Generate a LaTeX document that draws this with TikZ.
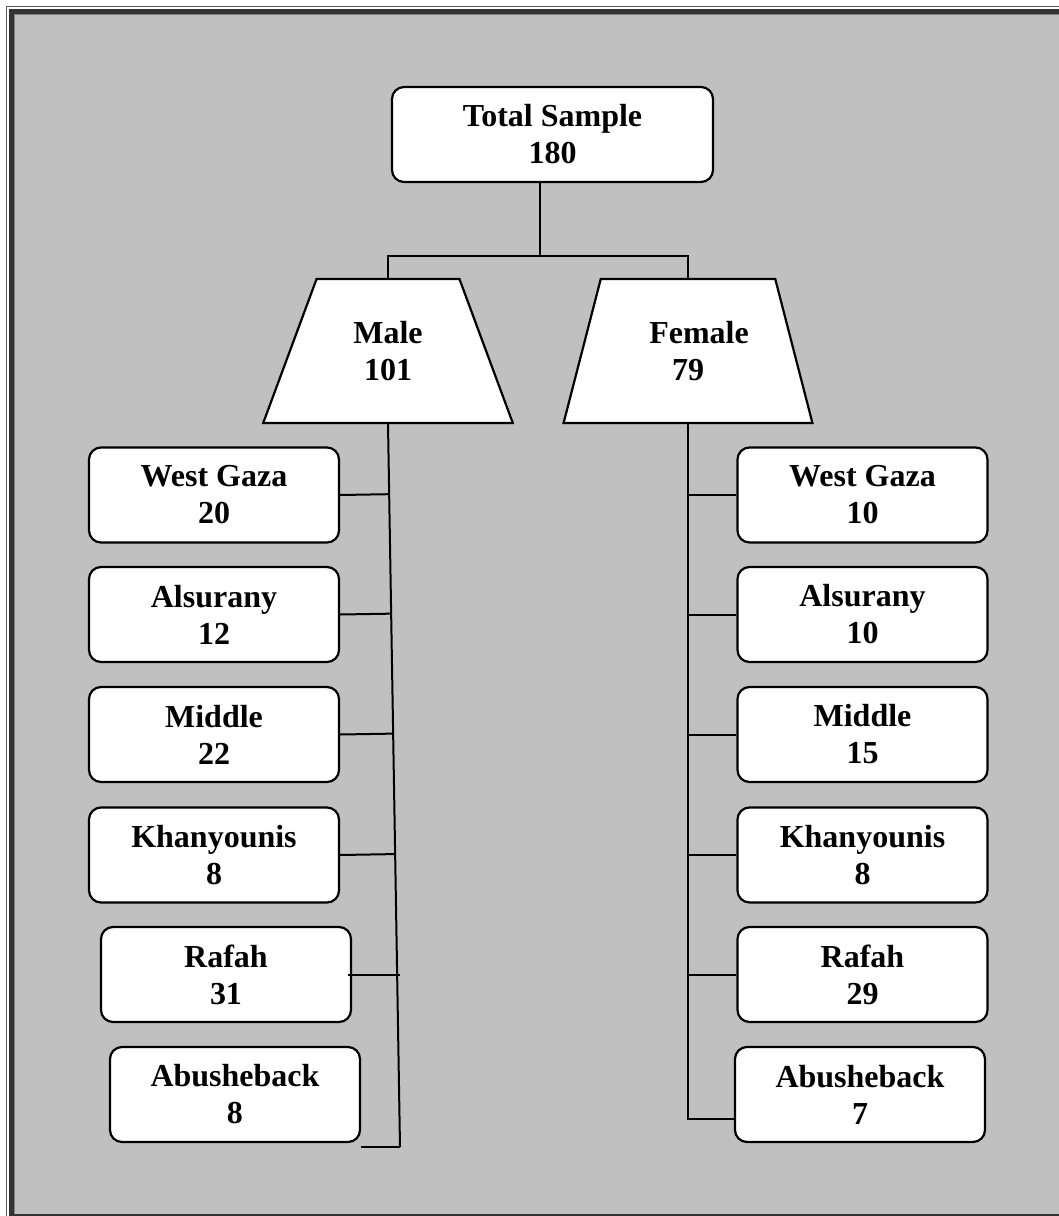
\documentclass[tikz,border=0pt]{standalone}
\usepackage{fontspec}
\setmainfont{Liberation Serif}
\usepackage{xcolor}
\usetikzlibrary{shapes.geometric,calc}
\definecolor{panelgray}{HTML}{C0C0C0}
\definecolor{frameband}{HTML}{333333}
\tikzset{
	region/.style={
			draw, fill=white, rounded corners=6pt, line width=1.1pt,
			minimum width=125pt, minimum height=47.5pt, inner sep=0pt,
			align=center, font=\fontsize{16}{18.5}\selectfont\bfseries
		},
	gender/.style={
			draw, fill=white, trapezium, trapezium stretches=true,
			trapezium left angle=66.5, trapezium right angle=66.5,
			minimum width=125pt, minimum height=72pt, inner sep=0pt, line width=1.1pt,
			align=center, font=\fontsize{16}{18.5}\selectfont\bfseries
		},
	link/.style={line width=1pt}
}

\begin{document}
\begin{tikzpicture}[x=0.5pt, y=-0.5pt]
		\useasboundingbox (0,0) rectangle (1059,1216);
		\fill[white] (0,0) rectangle (1059,1216);
		\fill[panelgray] (9,9) rectangle (1059,1216);
		\draw[gray!70!black, line width=0.6pt] (6.5,1216) -- (6.5,6.5) -- (1059,6.5);
		\fill[frameband] (9,9) rectangle (14,1216);
		\fill[frameband] (9,9) rectangle (1059,14);
		\draw[gray, line width=0.5pt] (14.5,1214) -- (14.5,14.5) -- (1059,14.5);
		\draw[frameband, line width=0.6pt] (9,1215) -- (1059,1215);

		\node[region, minimum width=160.5pt] (total) at (552.5,134.5) {Total Sample\\180};
		\node[gender] (male) at (388,351) {Male\\101};
		\node[gender] (female) at (688,351) {\hspace*{11pt}Female\\79};

		\node[region] (mWest) at (214,495) {West Gaza\\20};
		\node[region] (mAlsurany) at (214,614.5) {Alsurany\\12};
		\node[region] (mMiddle) at (214,734.5) {Middle\\22};
		\node[region] (mKhan) at (214,855) {Khanyounis\\8};
		\node[region] (mRafah) at (226,974.5) {Rafah\\31};
		\node[region] (mAbu) at (235,1094.5) {Abusheback\\8};

		\node[region] (fWest) at (862.5,495) {West Gaza\\10};
		\node[region] (fAlsurany) at (862.5,614.5) {Alsurany\\10};
		\node[region] (fMiddle) at (862.5,734.5) {Middle\\15};
		\node[region] (fKhan) at (862.5,855) {Khanyounis\\8};
		\node[region] (fRafah) at (862.5,974.5) {Rafah\\29};
		\node[region] (fAbu) at (860,1094.5) {Abusheback\\7};

		\draw[link] ([xshift=-6.25pt]total.south) -- ++(0,73) coordinate (fork);
		\draw[link] (male.north) |- (fork) -| (female.north);

		\draw[link] (male.south) -- ++(12,723) coordinate (mend);
		\foreach \b in {mWest,mAlsurany,mMiddle,mKhan}
			\draw[link] (\b.east) -- ($(male.south)!(\b.east)!(mend)$);
		\draw[link] ([xshift=-2pt]mRafah.east) -- (mRafah.east -| mend);
		\draw[link] (mAbu.south east |- mend) -- (mend);

		\draw[link] (female.south) |- ([yshift=-12.25pt]fAbu.west);
		\foreach \b in {fWest,fAlsurany,fMiddle,fKhan,fRafah}
			\draw[link] (\b.west) -- (\b.west -| female.south);
	\end{tikzpicture}
\end{document}
